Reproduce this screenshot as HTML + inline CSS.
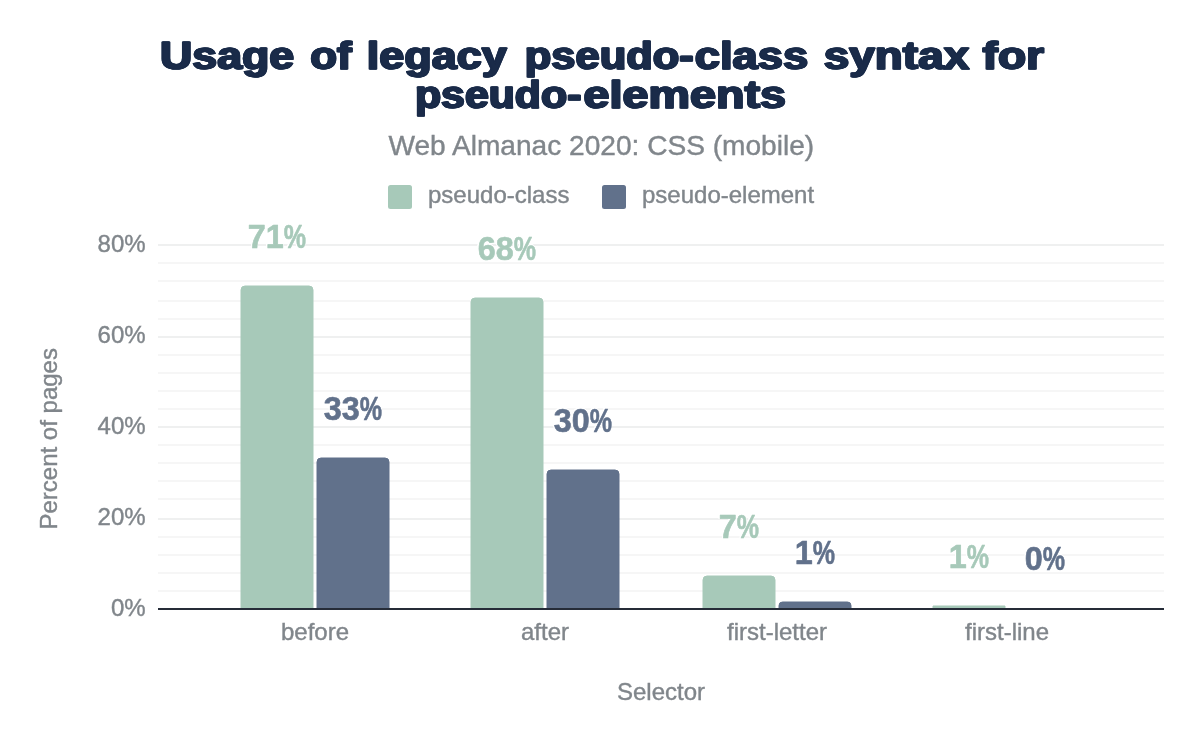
<!DOCTYPE html>
<html lang="en">
<head>
<meta charset="utf-8">
<title>Usage of legacy pseudo-class syntax for pseudo-elements</title>
<style>
html,body{margin:0;padding:0;background:#fff;}
body{width:1200px;height:742px;overflow:hidden;font-family:"Liberation Sans",sans-serif;}
svg{display:block;}
text{font-family:"Liberation Sans",sans-serif;}
.t{font-weight:bold;font-size:39.5px;fill:#1a2b49;stroke:#1a2b49;stroke-width:1.1px;stroke-linejoin:round;filter:drop-shadow(0.8px 0 0 #1a2b49) drop-shadow(-0.8px 0 0 #1a2b49);}
.g{font-size:24px;fill:#80868b;stroke:#80868b;stroke-width:0.4px;}
.sub{font-size:28.1px;fill:#80868b;stroke:#80868b;stroke-width:0.4px;}
.dl{font-weight:bold;font-size:33.5px;stroke-width:0.6px;stroke-linejoin:round;filter:drop-shadow(0.8px 0 0 #fff) drop-shadow(-0.8px 0 0 #fff) drop-shadow(0 0.8px 0 #fff) drop-shadow(0 -0.8px 0 #fff);}
.c1{fill:#a7c9b9;stroke:#a7c9b9;}
.c2{fill:#61718b;stroke:#61718b;}
</style>
</head>
<body>
<svg width="1200" height="742" viewBox="0 0 1200 742">
<rect width="1200" height="742" fill="#ffffff"/>
<text class="t" y="68.7"><tspan x="160.55" textLength="134.1" lengthAdjust="spacingAndGlyphs">Usage</tspan> <tspan x="310.85" textLength="41.3" lengthAdjust="spacingAndGlyphs">of</tspan> <tspan x="367.35" textLength="139.8" lengthAdjust="spacingAndGlyphs">legacy</tspan> <tspan x="525.35" textLength="168.8" lengthAdjust="spacingAndGlyphs">pseudo-</tspan><tspan x="695.35" textLength="113.3" lengthAdjust="spacingAndGlyphs">class</tspan> <tspan x="824.35" textLength="145.3" lengthAdjust="spacingAndGlyphs">syntax</tspan> <tspan x="983.1" textLength="61.3" lengthAdjust="spacingAndGlyphs">for</tspan></text>
<text class="t" y="108.1"><tspan x="415.45" textLength="166.5" lengthAdjust="spacingAndGlyphs">pseudo-</tspan><tspan x="584.05" textLength="202.4" lengthAdjust="spacingAndGlyphs">elements</tspan></text>
<text class="sub" x="601.3" y="155" text-anchor="middle">Web Almanac 2020: CSS (mobile)</text>
<rect x="388" y="185" width="24" height="24" rx="2.5" fill="#a7c9b9"/>
<text class="g" x="428" y="202.8">pseudo-class</text>
<rect x="602" y="185" width="24" height="24" rx="2.5" fill="#61718b"/>
<text class="g" x="642" y="202.8">pseudo-element</text>
<g>
<rect x="158" y="244" width="1006" height="2" fill="#eff0f0"/>
<rect x="158" y="262" width="1006" height="2" fill="#f6f6f6"/>
<rect x="158" y="280" width="1006" height="2" fill="#f6f6f6"/>
<rect x="158" y="300" width="1006" height="2" fill="#f6f6f6"/>
<rect x="158" y="318" width="1006" height="2" fill="#f6f6f6"/>
<rect x="158" y="336" width="1006" height="2" fill="#eff0f0"/>
<rect x="158" y="354" width="1006" height="2" fill="#f6f6f6"/>
<rect x="158" y="372" width="1006" height="2" fill="#f6f6f6"/>
<rect x="158" y="390" width="1006" height="2" fill="#f6f6f6"/>
<rect x="158" y="408" width="1006" height="2" fill="#f6f6f6"/>
<rect x="158" y="426" width="1006" height="2" fill="#eff0f0"/>
<rect x="158" y="444" width="1006" height="2" fill="#f6f6f6"/>
<rect x="158" y="462" width="1006" height="2" fill="#f6f6f6"/>
<rect x="158" y="480" width="1006" height="2" fill="#f6f6f6"/>
<rect x="158" y="498" width="1006" height="2" fill="#f6f6f6"/>
<rect x="158" y="518" width="1006" height="2" fill="#eff0f0"/>
<rect x="158" y="536" width="1006" height="2" fill="#f6f6f6"/>
<rect x="158" y="554" width="1006" height="2" fill="#f6f6f6"/>
<rect x="158" y="572" width="1006" height="2" fill="#f6f6f6"/>
<rect x="158" y="590" width="1006" height="2" fill="#f6f6f6"/>
</g>
<text class="g" x="145.6" y="252.4" text-anchor="end">80%</text>
<text class="g" x="145.6" y="343.3" text-anchor="end">60%</text>
<text class="g" x="145.6" y="434.2" text-anchor="end">40%</text>
<text class="g" x="145.6" y="525.1" text-anchor="end">20%</text>
<text class="g" x="145.6" y="616" text-anchor="end">0%</text>
<path class="c1" stroke="none" d="M241 609 V290 A4 4 0 0 1 245 286 H309 A4 4 0 0 1 313 290 V609 Z"/>
<path class="c2" stroke="none" d="M317 609 V462 A4 4 0 0 1 321 458 H385 A4 4 0 0 1 389 462 V609 Z"/>
<text class="dl c1" x="247.85" y="248"><tspan textLength="36" lengthAdjust="spacingAndGlyphs">71</tspan><tspan textLength="22.3" lengthAdjust="spacingAndGlyphs">%</tspan></text>
<text class="dl c2" x="323.85" y="420"><tspan textLength="36" lengthAdjust="spacingAndGlyphs">33</tspan><tspan textLength="22.3" lengthAdjust="spacingAndGlyphs">%</tspan></text>
<text class="g" x="315" y="640" text-anchor="middle">before</text>
<path class="c1" stroke="none" d="M471 609 V302 A4 4 0 0 1 475 298 H539 A4 4 0 0 1 543 302 V609 Z"/>
<path class="c2" stroke="none" d="M547 609 V474 A4 4 0 0 1 551 470 H615 A4 4 0 0 1 619 474 V609 Z"/>
<text class="dl c1" x="477.85" y="260"><tspan textLength="36" lengthAdjust="spacingAndGlyphs">68</tspan><tspan textLength="22.3" lengthAdjust="spacingAndGlyphs">%</tspan></text>
<text class="dl c2" x="553.85" y="432"><tspan textLength="36" lengthAdjust="spacingAndGlyphs">30</tspan><tspan textLength="22.3" lengthAdjust="spacingAndGlyphs">%</tspan></text>
<text class="g" x="545" y="640" text-anchor="middle">after</text>
<path class="c1" stroke="none" d="M703 609 V580 A4 4 0 0 1 707 576 H771 A4 4 0 0 1 775 580 V609 Z"/>
<path class="c2" stroke="none" d="M779 609 V605.5 A3.5 3.5 0 0 1 782.5 602 H847.5 A3.5 3.5 0 0 1 851 605.5 V609 Z"/>
<text class="dl c1" x="718.85" y="538"><tspan textLength="18" lengthAdjust="spacingAndGlyphs">7</tspan><tspan textLength="22.3" lengthAdjust="spacingAndGlyphs">%</tspan></text>
<text class="dl c2" x="794.85" y="564"><tspan textLength="18" lengthAdjust="spacingAndGlyphs">1</tspan><tspan textLength="22.3" lengthAdjust="spacingAndGlyphs">%</tspan></text>
<text class="g" x="777" y="640" text-anchor="middle">first-letter</text>
<path class="c1" stroke="none" d="M933 609 V606.01 A0.01 0.01 0 0 1 933.01 606 H1004.99 A0.01 0.01 0 0 1 1005 606.01 V609 Z"/>
<text class="dl c1" x="948.85" y="568"><tspan textLength="18" lengthAdjust="spacingAndGlyphs">1</tspan><tspan textLength="22.3" lengthAdjust="spacingAndGlyphs">%</tspan></text>
<text class="dl c2" x="1024.85" y="569.7"><tspan textLength="18" lengthAdjust="spacingAndGlyphs">0</tspan><tspan textLength="22.3" lengthAdjust="spacingAndGlyphs">%</tspan></text>
<text class="g" x="1007" y="640" text-anchor="middle">first-line</text>
<rect x="158" y="608" width="1006" height="2" fill="#262c38"/>
<text class="g" x="661" y="700" text-anchor="middle">Selector</text>
<text class="g" transform="translate(57.4 438.8) rotate(-90)" text-anchor="middle">Percent of pages</text>
</svg>
</body>
</html>
